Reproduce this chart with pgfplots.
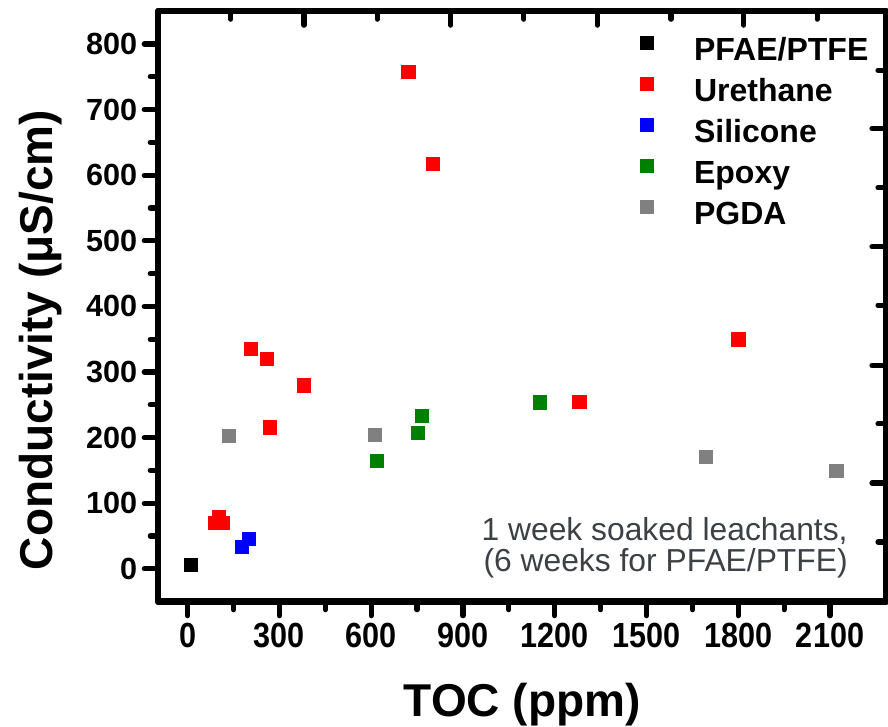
\documentclass[border=0pt]{standalone}
\usepackage{fontspec}
\setmainfont{Liberation Sans}
\usepackage{graphicx}
\usepackage{pgfplots}
\pgfplotsset{compat=1.18}
\definecolor{annot}{HTML}{3C4146}
\definecolor{pgreen}{HTML}{008000}
\definecolor{pgray}{HTML}{808080}

\begin{document}
\begin{tikzpicture}
\pgfplotsset{
  frame/.style={scale only axis, width=363.85pt, height=295.25pt,
    xmin=-96, xmax=2283, ymin=-50, ymax=850,
    axis line style={line width=3.2pt, line cap=round, line join=round},
    major tick length=7pt, minor tick length=4pt,
    tick style={black, line width=2.6pt, line cap=round},
  },
  mk/.style={only marks, mark=square*, mark size=3.3pt, color=#1,
    mark options={line width=0.2pt},
    legend image code/.code={\path[draw=none, fill=none] (0pt,-3pt) rectangle (26.5pt,11pt);
      \draw[##1] plot coordinates {(5pt,5pt)};}},
}
\begin{axis}[frame,
  tick align=outside, xtick pos=left, ytick pos=left,
  xtick={0,300,...,2100}, ytick={0,100,...,800},
  minor x tick num=1, minor y tick num=1,
  /pgf/number format/assume math mode=true,
  /pgf/number format/1000 sep={},
  tick label style={font=\bfseries\fontsize{15.3}{18}\selectfont},
  xticklabel={\scalebox{1}[1.14]{\pgfmathprintnumber{\tick}}},
  xlabel={TOC (ppm)},
  ylabel={Conductivity (μS/cm)},
  label style={font=\bfseries\fontsize{23}{27}\selectfont},
  xlabel style={at={(axis description cs:0.5,-0.1936)}, anchor=base},
  ylabel style={at={(axis description cs:-0.1457,0.4432)}, anchor=base},
  legend cell align=left,
  legend style={draw=none, fill=none, inner sep=0pt, column sep=0pt,
    at={(axis description cs:0.6574,0.9672)}, anchor=north west,
    font=\bfseries\fontsize{16}{18}\selectfont, row sep=0.5pt,
    nodes={text height=11pt, text depth=3pt, inner sep=2pt}},
]
% PFAE/PTFE
\addplot[mk=black] coordinates {(10,6)};
% Urethane
\addplot[mk=red] coordinates {
  (721,758) (801,617) (206,335) (259,320) (380,280) (268,216)
  (88,70) (114,70) (101,80) (1800,350) (1280,255)};
% Silicone
\addplot[mk=blue] coordinates {(176,34) (199,46)};
% Epoxy
\addplot[mk=pgreen] coordinates {(617,165) (765,233) (751,208) (1151,254)};
% PGDA
\addplot[mk=pgray] coordinates {(133,203) (611,204) (1694,171) (2120,150)};
\legend{PFAE/PTFE, Urethane, Silicone, Epoxy, PGDA}
\node[anchor=base east, align=right, inner sep=0pt, text=annot,
  font=\fontsize{15.9}{15.85}\selectfont]
  at (axis description cs:0.9478,0.0508)
  {1 week soaked leachants,\\(6 weeks for PFAE/PTFE)};
\end{axis}
% mirrored ticks on top and right, pointing inward
\begin{axis}[frame,
  tick align=inside, xtick pos=right, ytick pos=right,
  xtick={380,860,1339,1818}, minor xtick={141,620,1099,1580,2058},
  ytick={131,310,491,671}, minor ytick={41,221,402,581,760},
  xticklabels={}, yticklabels={},
]
\end{axis}
\pgfresetboundingbox
\useasboundingbox (-79.15pt,-62.65pt) rectangle (364.85pt,300.85pt);
\end{tikzpicture}
\end{document}
